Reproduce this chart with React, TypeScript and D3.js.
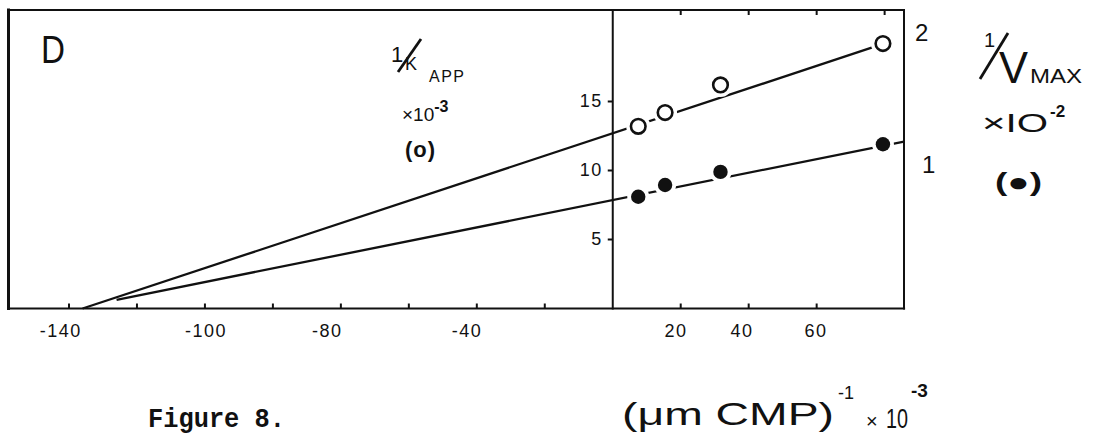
import React from "react";
import * as d3 from "d3";

// Reciprocal substrate concentration, (µM CMP)^-1 x 10^-3
const concentrations = [7.5, 15.4, 31.7, 79.5];
// 1/K_app x 10^-3 (open circles, left scale)
const kappValues = [13.2, 14.2, 16.2, 19.2];
// 1/V_max x 10^-2 (filled circles, right scale)
const vmaxValues = [0.81, 0.895, 0.99, 1.19];

// Fitted lines, given by their end points [x, y]
const kappFit: [number, number][] = [[-156, 0], [79.5, 19.17]];
const vmaxFit: [number, number][] = [[-146, 0.063], [85.7, 1.21]];

// Axis ticks and labels
const bottomTicks = [-160, -140, -120, -100, -80, -60, -40, -20, 20, 40, 60];
const topTicks = [20, 40, 60, 80];
const xLabelAt = [-162.4, -119.7, -84, -42.9, 18.6, 38, 59.8];
const xLabelText = ["-140", "-100", "-80", "-40", "20", "40", "60"];
const leftTicks = [5, 10, 15];
const leftTickText = ["5", "10", "15"];
const rightTicks = [1, 2];
const rightTickText = ["1", "2"];

const W = 1096;
const H = 446;

export default function App() {
  const x = d3.scaleLinear().domain([-177.8, 85.7]).range([8.5, 904]);
  const yL = d3.scaleLinear().domain([0, 21.63]).range([308.5, 10]);
  const yR = d3.scaleLinear().domain([0, 2.163]).range([308.5, 10]);

  const kLine = d3
    .line<[number, number]>()
    .x((d) => x(d[0]))
    .y((d) => yL(d[1]));
  const vLine = d3
    .line<[number, number]>()
    .x((d) => x(d[0]))
    .y((d) => yR(d[1]));

  const x0 = x(0);
  const top = yL.range()[1];
  const bottom = yL.range()[0];
  const left = x.range()[0];
  const right = x.range()[1];

  const sans = "'Liberation Sans', Arial, sans-serif";
  const mono = "'Liberation Mono', 'Courier New', monospace";

  return (
    <svg
      width={W}
      height={H}
      viewBox={`0 0 ${W} ${H}`}
      style={{ position: "absolute", left: 0, top: 0, background: "#fff" }}
    >
      <rect x={0} y={0} width={W} height={H} fill="#fff" />

      {/* frame */}
      <g stroke="#111" fill="none" strokeLinecap="square">
        <line x1={left} y1={top} x2={right} y2={top} strokeWidth={2} />
        <line x1={left} y1={bottom} x2={right} y2={bottom} strokeWidth={2.2} />
        <line x1={left} y1={top} x2={left} y2={bottom} strokeWidth={3} />
        <line x1={right} y1={top} x2={right} y2={bottom} strokeWidth={2} />
        <line x1={x0} y1={top} x2={x0} y2={bottom} strokeWidth={2} />
      </g>

      {/* ticks */}
      <g stroke="#111" strokeWidth={2}>
        {bottomTicks.map((t) => (
          <line key={"b" + t} x1={x(t)} x2={x(t)} y1={bottom} y2={bottom - 5} />
        ))}
        {topTicks.map((t) => (
          <line key={"t" + t} x1={x(t)} x2={x(t)} y1={top} y2={top + 5} />
        ))}
        {leftTicks.map((t) => (
          <line key={"l" + t} x1={x0} x2={x0 - 5} y1={yL(t)} y2={yL(t)} />
        ))}
      </g>

      {/* tick labels */}
      <g fontFamily={sans} fontSize={18} fill="#111" letterSpacing={1.5}>
        {xLabelAt.map((v, i) => (
          <text key={"xl" + i} x={x(v)} y={337} textAnchor="middle">
            {xLabelText[i]}
          </text>
        ))}
        {leftTicks.map((v, i) => (
          <text
            key={"yl" + i}
            x={x0 - 10}
            y={yL(v)}
            textAnchor="end"
            dominantBaseline="central"
          >
            {leftTickText[i]}
          </text>
        ))}
      </g>
      <g fontFamily={sans} fontSize={24} fill="#111">
        {rightTicks.map((v, i) => (
          <text
            key={"yr" + i}
            x={right + 11 + (i === 0 ? 7 : 0)}
            y={yR(v) - (i === 0 ? 6 : 0)}
            dominantBaseline="central"
          >
            {rightTickText[i]}
          </text>
        ))}
      </g>

      {/* fitted lines */}
      <path d={kLine(kappFit) ?? ""} fill="none" stroke="#111" strokeWidth={2.3} />
      <path d={vLine(vmaxFit) ?? ""} fill="none" stroke="#111" strokeWidth={2.3} />

      {/* white gaps around markers */}
      <g fill="#fff">
        {concentrations.map((c, i) => (
          <circle key={"hk" + i} cx={x(c)} cy={yL(kappValues[i])} r={12} />
        ))}
        {concentrations.map((c, i) => (
          <circle key={"hv" + i} cx={x(c)} cy={yR(vmaxValues[i])} r={11} />
        ))}
      </g>

      {/* markers */}
      {concentrations.map((c, i) => (
        <circle
          key={"k" + i}
          cx={x(c)}
          cy={yL(kappValues[i])}
          r={7.3}
          fill="#fff"
          stroke="#111"
          strokeWidth={2.6}
        />
      ))}
      {concentrations.map((c, i) => (
        <circle
          key={"v" + i}
          cx={x(c)}
          cy={yR(vmaxValues[i])}
          r={7.2}
          fill="#111"
        />
      ))}

      {/* panel letter */}
      <text x={41} y={63} fontFamily={sans} fontSize={38} fill="#111" textLength={24} lengthAdjust="spacingAndGlyphs">
        D
      </text>

      {/* left scale title: 1/K_APP x10^-3 (o) */}
      <g fill="#111" fontFamily={sans}>
        <text x={391} y={62} fontSize={22}>1</text>
        <line x1={398} y1={72} x2={421} y2={39} stroke="#111" strokeWidth={2.8} />
        <text x={405} y={70} fontSize={18}>K</text>
        <text x={429} y={82} fontSize={16} letterSpacing={1.5}>APP</text>
        <text x={402} y={121} fontSize={19}>
          ×10
          <tspan dy={-9} fontSize={16} fontWeight="bold">-3</tspan>
        </text>
        <text x={405} y={157} fontSize={22} fontWeight="bold" letterSpacing={1}>
          (o)
        </text>
      </g>

      {/* right scale title: 1/V_MAX x10^-2 (●) */}
      <g fill="#111" fontFamily={sans}>
        <text x={984} y={47} fontSize={20}>1</text>
        <line x1={980} y1={79} x2={1008} y2={33} stroke="#111" strokeWidth={2.8} />
        <text x={999} y={83} fontSize={45} textLength={29} lengthAdjust="spacingAndGlyphs">V</text>
        <text x={1030} y={83} fontSize={20} textLength={52} lengthAdjust="spacingAndGlyphs">MAX</text>
        <text x={982} y={132} fontSize={26} textLength={66} lengthAdjust="spacingAndGlyphs">
          ×IO
        </text>
        <text x={1050} y={117} fontSize={17} fontWeight="bold">-2</text>
        <text x={995} y={191} fontSize={26} fontWeight="bold" textLength={47} lengthAdjust="spacingAndGlyphs">
          (●)
        </text>
      </g>

      {/* x-axis title */}
      <g fill="#111" fontFamily={sans}>
        <text x={622} y={425} fontSize={32} textLength={212} lengthAdjust="spacingAndGlyphs">
          (μm CMP)
        </text>
        <text x={838} y={399} fontSize={18}>-1</text>
        <text x={866} y={428} fontSize={20}>×</text>
        <text x={886} y={428} fontSize={28} textLength={22} lengthAdjust="spacingAndGlyphs">10</text>
        <text x={911} y={397} fontSize={19} fontWeight="bold">-3</text>
      </g>

      {/* figure caption */}
      <text
        x={148}
        y={427}
        fontFamily={mono}
        fontSize={27}
        fontWeight="bold"
        fill="#111"
        textLength={137}
        lengthAdjust="spacingAndGlyphs"
      >
        Figure 8.
      </text>
    </svg>
  );
}
